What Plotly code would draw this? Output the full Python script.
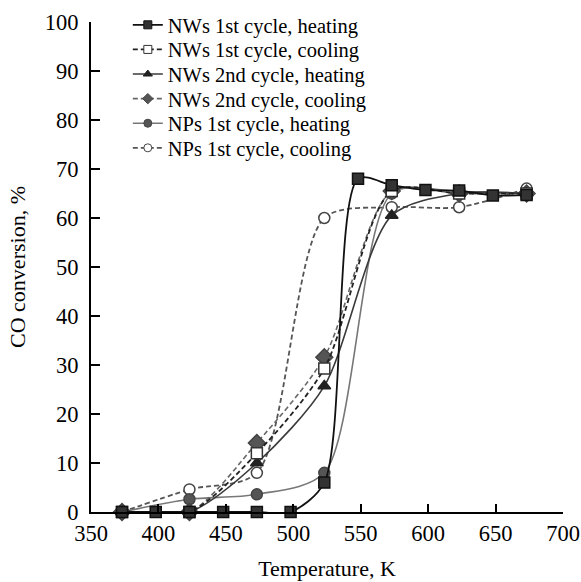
import plotly.graph_objects as go

T_all = [373, 398, 423, 448, 473, 498, 523, 548, 573, 598, 623, 648, 673]
nws1_heat = [0, 0, 0, 0, 0, 0, 6, 68, 66.7, 65.7, 65.6, 64.6, 64.7]

T7 = [373, 423, 473, 523, 573, 623, 673]
nws1_cool = [0, 0, 12, 29.3, 65.5, 65, 65]
nws2_heat = [0, 0, 10, 25.7, 60.5, 65, 65]
nws2_cool = [0, 0, 14.1, 31.6, 65.5, 65, 65]
nps1_heat = [0, 2.6, 3.6, 8, 65, 65.4, 65]
nps1_cool = [0, 4.6, 8, 60, 62.2, 62.2, 66]

names = ["NWs 1st cycle, heating", "NWs 1st cycle, cooling",
         "NWs 2nd cycle, heating", "NWs 2nd cycle, cooling",
         "NPs 1st cycle, heating", "NPs 1st cycle, cooling"]

xs = [T_all, T7, T7, T7, T7, T7]
ys = [nws1_heat, nws1_cool, nws2_heat, nws2_cool, nps1_heat, nps1_cool]

DASH = "5px,3px"
styles = [
    dict(line=dict(color="#111111", width=1.8, dash="solid"),
         sym="square", fill="#333333", edge="#111111", size=11),
    dict(line=dict(color="#222222", width=1.8, dash=DASH),
         sym="square", fill="#ffffff", edge="#333333", size=11),
    dict(line=dict(color="#3a3a3a", width=1.6, dash="solid"),
         sym="triangle-up", fill="#222222", edge="#222222", size=11),
    dict(line=dict(color="#666666", width=1.6, dash=DASH),
         sym="diamond", fill="#555555", edge="#444444", size=13),
    dict(line=dict(color="#777777", width=1.6, dash="solid"),
         sym="circle", fill="#555555", edge="#444444", size=11),
    dict(line=dict(color="#555555", width=1.8, dash=DASH),
         sym="circle", fill="#ffffff", edge="#444444", size=11),
]

fig = go.Figure()
for i in [5, 4, 3, 2, 1, 0]:
    s = styles[i]
    fig.add_trace(go.Scatter(
        x=xs[i], y=ys[i], mode="lines+markers", name=names[i],
        line=dict(shape="spline", smoothing=0.8, **s["line"]),
        marker=dict(symbol=s["sym"], size=s["size"], color=s["fill"],
                    line=dict(color=s["edge"], width=1.5)),
        showlegend=False, cliponaxis=False))

font = "Liberation Serif"
H = 582
legend_layout = {}
for i in range(6):
    s = styles[i]
    key = "legend" if i == 0 else f"legend{i + 1}"
    fig.add_trace(go.Scatter(
        x=[None], y=[None], mode="lines+markers", name=names[i],
        line=s["line"],
        marker=dict(symbol=s["sym"], size=8, color=s["fill"],
                    line=dict(color=s["edge"], width=1)),
        showlegend=True, legend=key))
    row_center = 25 + i * 24.6
    legend_layout[key] = dict(
        x=0.078, y=1 - row_center / H, xanchor="left", yanchor="middle",
        yref="container", bgcolor="rgba(0,0,0,0)",
        font=dict(size=20.5, family=font, color="black"),
        itemwidth=30)

fig.update_layout(
    width=581, height=H,
    margin=dict(l=91, r=18, t=22, b=70, autoexpand=False),
    paper_bgcolor="white", plot_bgcolor="white",
    font=dict(family=font, size=22, color="black"),
    xaxis=dict(range=[350, 700], tickvals=[350, 400, 450, 500, 550, 600, 650, 700],
               showgrid=False, zeroline=False, showline=True, linecolor="black",
               linewidth=2, ticks="inside", ticklen=8, tickwidth=2, tickcolor="black",
               tickfont=dict(family=font, size=22.5), automargin=False,
               ticklabeloverflow="allow",
               title=dict(text="Temperature, K", font=dict(family=font, size=22), standoff=16)),
    yaxis=dict(range=[0, 100], tickvals=list(range(0, 101, 10)),
               showgrid=False, zeroline=False, showline=True, linecolor="black",
               linewidth=2, ticks="inside", ticklen=9, tickwidth=2, tickcolor="black",
               ticklabelstandoff=6, tickfont=dict(family=font, size=22.5), automargin=False,
               title=dict(text="CO conversion, %", font=dict(family=font, size=22), standoff=13)),
    **legend_layout,
)

fig.write_html(
    "out.html",
    config={"displayModeBar": False},
    post_script="document.body.style.margin='0';document.body.style.overflow='hidden';",
)
